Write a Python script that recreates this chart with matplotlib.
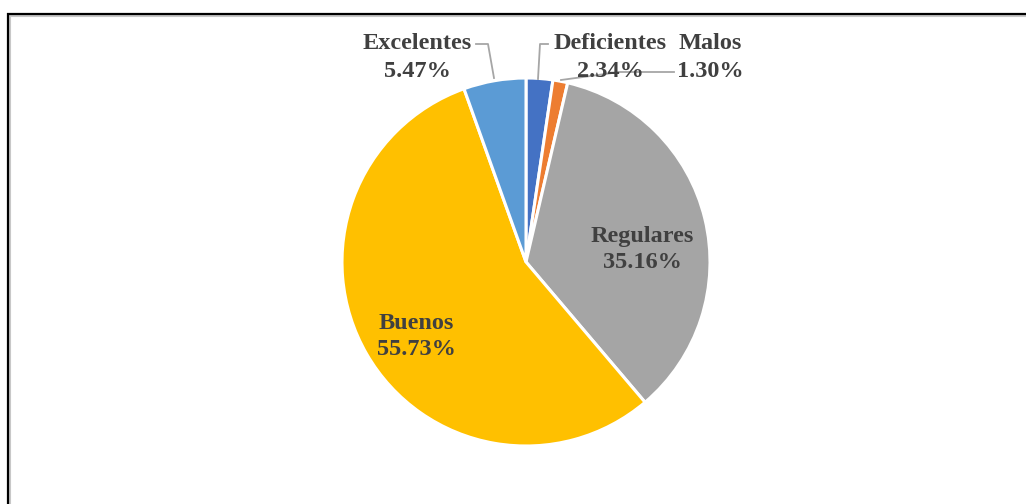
import matplotlib
matplotlib.use("Agg")
import matplotlib.pyplot as plt

categories = ["Deficientes", "Malos", "Regulares", "Buenos", "Excelentes"]
values = [2.34, 1.30, 35.16, 55.73, 5.47]
colors = ["#4472C4", "#ED7D31", "#A5A5A5", "#FFC000", "#5B9BD5"]

W, H = 1026, 504
fig = plt.figure(figsize=(W / 100, H / 100), dpi=100)
ax = fig.add_axes([0, 0, 1, 1])

def Y(py):
    return H - py

cx, cy, r = 526, Y(262), 184
ax.pie(values, colors=colors, startangle=90, counterclock=False,
       center=(cx, cy), radius=r, frame=True,
       wedgeprops=dict(edgecolor="white", linewidth=2.2))
ax.set_xlim(0, W)
ax.set_ylim(0, H)
ax.set_aspect("equal")
ax.axis("off")

font = dict(family="Liberation Serif", weight="bold", size=17.5, color="#404040")
# label positions (pixel coords: x center, baseline line1, baseline line2)
label_pos = {
    "Excelentes": (417, 49, 77),
    "Deficientes": (610, 49, 77),
    "Malos": (710, 49, 77),
    "Regulares": (642, 242, 268),
    "Buenos": (416, 329, 355),
}
for cat, val in zip(categories, values):
    x, b1, b2 = label_pos[cat]
    ax.text(x, Y(b1), cat, ha="center", va="baseline", **font)
    ax.text(x, Y(b2), f"{val:.2f}%", ha="center", va="baseline", **font)

lc = "#A6A6A6"
ax.plot([476, 488, 494], [Y(44), Y(44), Y(78)], color=lc, lw=1.3)
ax.plot([548, 540, 538], [Y(44), Y(44), Y(79)], color=lc, lw=1.3)
ax.plot([561, 620, 674], [Y(80), Y(72), Y(72)], color=lc, lw=1.3)

# frame (top and left edges)
ax.plot([7, W], [Y(16), Y(16)], color="#C8C8C8", lw=1.5, solid_capstyle="butt")
ax.plot([10, 10], [Y(16), 0], color="#C8C8C8", lw=1.5, solid_capstyle="butt")
ax.plot([7, W], [Y(14), Y(14)], color="black", lw=1.6, solid_capstyle="butt")
ax.plot([8, 8], [Y(13), 0], color="black", lw=1.6, solid_capstyle="butt")

fig.savefig("out.png", dpi=100)
